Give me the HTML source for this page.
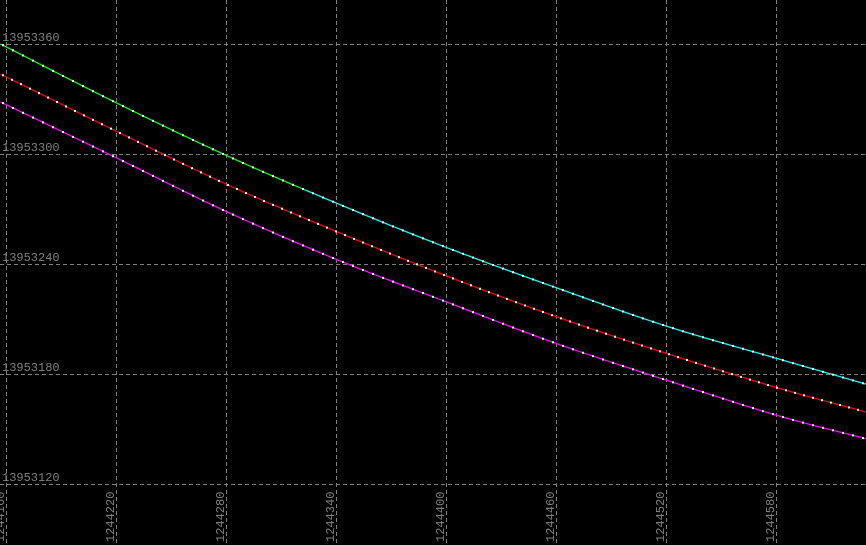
<!DOCTYPE html>
<html><head><meta charset="utf-8"><style>
html,body{margin:0;padding:0;background:#000;}
svg{display:block;}
text{font-family:"Liberation Mono","DejaVu Sans Mono",monospace;font-size:12px;fill:#808080;}
</style></head><body>
<svg id="chart" width="866" height="545" xmlns="http://www.w3.org/2000/svg">
<rect width="866" height="545" fill="#000"/>
<g id="grid"></g>
<g id="series"></g>
<g id="labels"></g>
</svg>
<script>
const xTicks = [1244160,1244220,1244280,1244340,1244400,1244460,1244520,1244580];
const yTicks = [13953360,13953300,13953240,13953180,13953120];
const xs = [1244157,1244220,1244280,1244340,1244400,1244460,1244520,1244580,1244629];
const upperBand = [13953360,13953328.0,13953299.3,13953273.3,13953249.1,13953227.1,13953206.2,13953188.6,13953174.5];
const midLine = [13953343.6,13953312.5,13953283.6,13953257.8,13953233.6,13953211.3,13953191.3,13953172.7,13953159.3];
const lowerBand = [13953328.4,13953298.0,13953268.7,13953242.6,13953219.4,13953196.7,13953176.7,13953157.6,13953144.7];

const NS='http://www.w3.org/2000/svg';
function X(v){return 6+(v-1244160)*110/60;}
function Y(v){return 44+(13953360-v)*110/60;}
function mk(tag,attrs,parent){const e=document.createElementNS(NS,tag);for(const k in attrs)e.setAttribute(k,attrs[k]);parent.appendChild(e);return e;}
const grid=document.getElementById('grid'),ser=document.getElementById('series'),lab=document.getElementById('labels');

xTicks.forEach(t=>{
  const l=mk('line',{x1:X(t)+0.5,x2:X(t)+0.5,y1:0,y2:545,stroke:'#808080','stroke-dasharray':'4,3','stroke-width':1},grid);
  
  
  const tx=mk('text',{x:0,y:0,transform:`translate(${X(t)-2},542) rotate(-90)`},lab);
  tx.textContent=t;
  
  
});
yTicks.forEach(t=>{
  const l=mk('line',{x1:0,x2:866,y1:Y(t)+0.5,y2:Y(t)+0.5,stroke:'#808080','stroke-dasharray':'4,3','stroke-width':1},grid);
  
  
  const tx=mk('text',{x:2,y:Y(t)-3},lab);
  tx.textContent=t;
  
  
});

// parametric Catmull-Rom with reflected end points
function curve(vals){
  const P=xs.map((x,i)=>[X(x),Y(vals[i])]);
  const n=P.length;
  const E=[[2*P[0][0]-P[1][0],2*P[0][1]-P[1][1]],...P,[2*P[n-1][0]-P[n-2][0],2*P[n-1][1]-P[n-2][1]]];
  const out=[];
  for(let i=1;i<E.length-2;i++){
    const p0=E[i-1],p1=E[i],p2=E[i+1],p3=E[i+2];
    for(let s=0;s<20;s++){
      const t=s/20,t2=t*t,t3=t2*t;
      const f=k=>0.5*((2*p1[k])+(-p0[k]+p2[k])*t+(2*p0[k]-5*p1[k]+4*p2[k]-p3[k])*t2+(-p0[k]+3*p1[k]-3*p2[k]+p3[k])*t3);
      out.push([f(0),f(1)]);
    }
  }
  out.push(P[n-1]);
  return out;
}
function yAt(c,px){
  for(let i=0;i<c.length-1;i++){if(px>=c[i][0]&&px<=c[i+1][0]){const f=(px-c[i][0])/(c[i+1][0]-c[i][0]||1);return c[i][1]+(c[i+1][1]-c[i][1])*f;}}
  return c[c.length-1][1];
}
function drawLine(c,color,name,clip){
  const p=mk('polyline',{points:c.map(q=>q[0].toFixed(2)+','+q[1].toFixed(2)).join(' '),fill:'none',stroke:color,'stroke-width':1.3},ser);
  if(clip)p.setAttribute('clip-path',clip);
  
  
}
const defs=mk('defs',{},document.getElementById('chart'));
const c1=mk('clipPath',{id:'cl'},defs);mk('rect',{x:0,y:0,width:305,height:545},c1);
const c2=mk('clipPath',{id:'cr'},defs);mk('rect',{x:305,y:0,width:561,height:545},c2);
const cu=curve(upperBand),cm=curve(midLine),cl=curve(lowerBand);
drawLine(cu,'#00ff00','upper-band-line-green','url(#cl)');
drawLine(cu,'#00ffff','upper-band-line-cyan','url(#cr)');
drawLine(cm,'#ff0000','middle-line');
drawLine(cl,'#ff00ff','lower-band-line');
function dots(c,from,step,name){
  for(let px=from;px<866;px+=step){
    const d=mk('rect',{x:px-1,y:yAt(c,px)-1,width:2,height:2,fill:'#fff'},ser);
    
    
  }
}
dots(cu,3,10,'upper-marker');
dots(cm,3,9,'middle-marker');
dots(cl,3,10,'lower-marker');
</script>
</body></html>
